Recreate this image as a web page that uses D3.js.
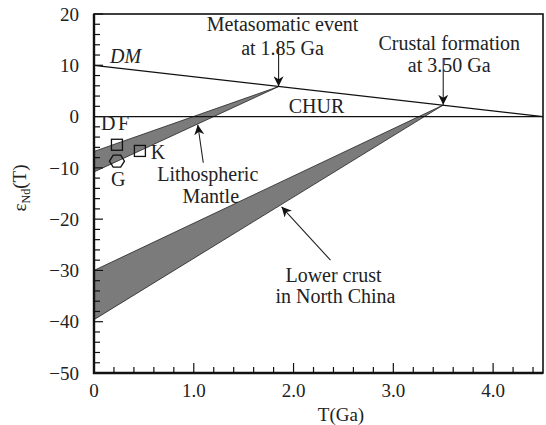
<!DOCTYPE html>
<html lang="en">
<head>
    <meta charset="UTF-8">
    <title>Nd evolution diagram</title>
    <script src="https://d3js.org/d3.v7.min.js"></script>
    <style>
        body { margin: 0; background: #fff; }
        svg { display: block; }
        .tick-label { font-size: 19px; fill: #222; }
        .note { font-size: 20px; fill: #222; }
        .wedge { fill: #7b7b7b; stroke: #222; stroke-width: 0.8; }
        .model { stroke: #111; stroke-width: 1.2; fill: none; }
        .pointer { stroke: #222; stroke-width: 1.1; fill: none; }
        .sample { fill: none; stroke: #111; stroke-width: 1.3; }
    </style>
</head>
<body>
<svg width="546" height="425">
    <defs>
        <marker id="head" viewBox="0 0 10 10" refX="10" refY="5" markerWidth="10" markerHeight="10"
                markerUnits="userSpaceOnUse" orient="auto">
            <path d="M0,0 L10,5 L0,10 L3,5 Z" fill="#111"></path>
        </marker>
    </defs>
</svg>
<script>
    // axis values
    const xTicks = [0, 1, 2, 3, 4];
    const xTickLabels = ["0", "1.0", "2.0", "3.0", "4.0"];
    const yTicks = [20, 10, 0, -10, -20, -30, -40, -50];
    const yTickLabels = ["20", "10", "0", "\u221210", "\u221220", "\u221230", "\u221240", "\u221250"];

    // model lines (T in Ga, epsilon Nd)
    const dmLine = [[0, 10], [4.5, 0]];
    const churLine = [[0, 0], [4.5, 0]];

    // evolution wedges
    const mantleWedge = [[1.85, 5.85], [0, -6.8], [0, -10.8]];
    const crustWedge = [[3.5, 2.25], [0, -30], [0, -39.6]];

    // samples
    const squares = [{name: "DF", t: 0.23, e: -5.5}, {name: "K", t: 0.46, e: -6.7}];
    const hexagons = [{name: "G", t: 0.23, e: -8.7}];

    // text labels [text, t, e, anchor]
    const labels = [
        ["Metasomatic event", 1.89, 16.6, "middle"],
        ["at 1.85 Ga", 1.89, 12.0, "middle"],
        ["Crustal formation", 3.56, 13.0, "middle"],
        ["at 3.50 Ga", 3.56, 8.6, "middle"],
        ["CHUR", 2.23, 0.7, "middle"],
        ["Lithospheric", 1.14, -12.6, "middle"],
        ["Mantle", 1.17, -16.8, "middle"],
        ["Lower crust", 2.40, -32.2, "middle"],
        ["in North China", 2.42, -36.4, "middle"],
        ["D", 0.07, -2.6, "start"],
        ["F", 0.24, -2.6, "start"],
        ["K", 0.57, -8.2, "start"],
        ["G", 0.17, -13.6, "start"]
    ];

    // arrows [fromT, fromE, toT, toE]
    const arrows = [
        [1.85, 13.4, 1.85, 5.9],
        [3.5, 11.4, 3.5, 2.3],
        [1.095, -9.0, 1.04, -1.6],
        [2.37, -28.0, 1.88, -17.6]
    ];

    const serif = "'Liberation Serif', 'Times New Roman', Times, 'DejaVu Serif', serif";

    const svg = d3.select("svg").attr("font-family", serif);
    const margin = {top: 14, right: 3, bottom: 52, left: 94};
    const W = +svg.attr("width"), H = +svg.attr("height");

    const x = d3.scaleLinear().domain([0, 4.5]).range([margin.left, W - margin.right]);
    const y = d3.scaleLinear().domain([-50, 20]).range([H - margin.bottom, margin.top]);

    const line = d3.line().x(d => x(d[0])).y(d => y(d[1]));

    // wedges
    svg.append("g").selectAll("path")
        .data([mantleWedge, crustWedge])
        .join("path")
        .attr("class", "wedge")
        .attr("d", d => line(d) + "Z");

    // model lines
    svg.append("g").selectAll("path")
        .data([dmLine, churLine])
        .join("path")
        .attr("class", "model")
        .attr("d", line);

    // minor ticks
    const xMinor = d3.range(0, 4.51, 0.2);
    const yMinor = d3.range(-50, 20.01, 2);
    const ticks = svg.append("g").attr("stroke", "#111").attr("stroke-width", 1.2);
    ticks.selectAll(".xt").data(xMinor).join("line")
        .attr("x1", d => x(d)).attr("x2", d => x(d))
        .attr("y1", y(-50))
        .attr("y2", d => y(-50) - (Math.abs(d - Math.round(d)) < 1e-6 ? 10 : 6));
    ticks.selectAll(".yt").data(yMinor).join("line")
        .attr("y1", d => y(d)).attr("y2", d => y(d))
        .attr("x1", x(0))
        .attr("x2", d => x(0) + (Math.abs(d % 10) < 1e-6 ? 9 : 6));

    // frame
    svg.append("rect")
        .attr("x", x(0)).attr("y", y(20))
        .attr("width", x(4.5) - x(0)).attr("height", y(-50) - y(20))
        .attr("fill", "none").attr("stroke", "#111").attr("stroke-width", 1.6);
    svg.append("path")
        .attr("d", `M${x(0)},${y(20)}V${y(-50)}H${x(4.5)}`)
        .attr("fill", "none").attr("stroke", "#111").attr("stroke-width", 2.4);

    // tick labels
    svg.append("g").selectAll("text").data(xTicks).join("text")
        .attr("class", "tick-label")
        .attr("x", d => x(d)).attr("y", y(-50) + 24)
        .attr("text-anchor", "middle")
        .text((d, i) => xTickLabels[i]);
    svg.append("g").selectAll("text").data(yTicks).join("text")
        .attr("class", "tick-label")
        .attr("x", x(0) - 15).attr("y", d => y(d))
        .attr("dy", "0.35em")
        .attr("text-anchor", "end")
        .text((d, i) => yTickLabels[i]);

    // axis titles
    svg.append("text")
        .attr("class", "tick-label")
        .attr("x", 341).attr("y", H - 4)
        .attr("text-anchor", "middle")
        .text("T(Ga)");
    const yt = svg.append("text")
        .attr("class", "tick-label")
        .attr("transform", "translate(26,188) rotate(-90)")
        .attr("text-anchor", "middle");
    yt.append("tspan").text("\u03b5");
    yt.append("tspan").attr("font-size", 12).attr("dy", 4).text("Nd");
    yt.append("tspan").attr("dy", -4).text("(T)");

    // DM label
    svg.append("text")
        .attr("class", "note")
        .attr("x", x(0.16)).attr("y", y(10.4))
        .attr("text-anchor", "start")
        .attr("font-style", "italic")
        .text("DM");

    // annotations
    svg.append("g").selectAll("text").data(labels).join("text")
        .attr("class", "note")
        .attr("x", d => x(d[1])).attr("y", d => y(d[2]))
        .attr("text-anchor", d => d[3])
        .text(d => d[0]);

    svg.append("g").selectAll("line").data(arrows).join("line")
        .attr("class", "pointer")
        .attr("x1", d => x(d[0])).attr("y1", d => y(d[1]))
        .attr("x2", d => x(d[2])).attr("y2", d => y(d[3]))
        .attr("marker-end", "url(#head)");

    // samples
    const sq = 11;
    svg.append("g").selectAll("rect").data(squares).join("rect")
        .attr("class", "sample")
        .attr("x", d => x(d.t) - sq / 2).attr("y", d => y(d.e) - sq / 2)
        .attr("width", sq).attr("height", sq);

    const hex = (cx, cy) => {
        const rx = 7.5, ry = 6;
        const pts = [[-rx, 0], [-rx / 2, -ry], [rx / 2, -ry], [rx, 0], [rx / 2, ry], [-rx / 2, ry]];
        return "M" + pts.map(p => [cx + p[0], cy + p[1]].join(",")).join("L") + "Z";
    };
    svg.append("g").selectAll("path").data(hexagons).join("path")
        .attr("class", "sample")
        .attr("d", d => hex(x(d.t), y(d.e)));
</script>
</body>
</html>
